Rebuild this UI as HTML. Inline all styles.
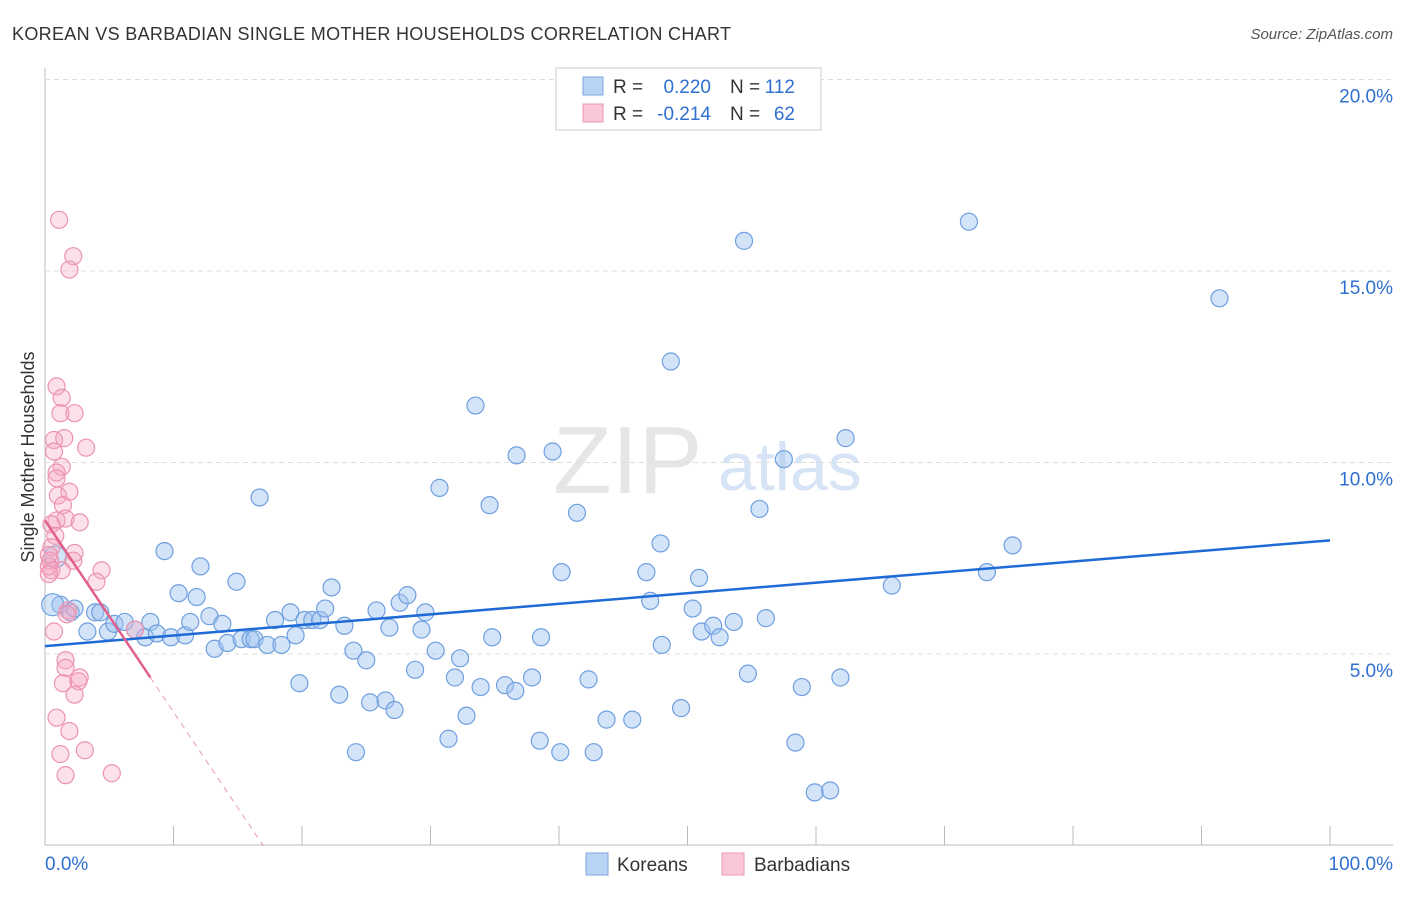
<!DOCTYPE html>
<html><head><meta charset="utf-8"><style>
body{margin:0;background:#fff;font-family:"Liberation Sans",sans-serif}
svg text{font-family:"Liberation Sans",sans-serif}
</style></head><body>
<svg width="1406" height="892" id="c">
<text x="12" y="40" font-size="18" fill="#333" textLength="719">KOREAN VS BARBADIAN SINGLE MOTHER HOUSEHOLDS CORRELATION CHART</text>
<text x="1393" y="39" font-size="15" fill="#555" font-style="italic" text-anchor="end">Source: ZipAtlas.com</text>
<text x="34" y="457" font-size="18" fill="#333" transform="rotate(-90 34 457)" text-anchor="middle">Single Mother Households</text>
<text x="553" y="493" font-size="96" fill="#e6e6e6" font-family="Liberation Serif">ZIP</text>
<text x="718" y="490" font-size="68" fill="#d6e4f5">atlas</text>
<g id="grid"></g><g id="blue"></g><g id="pink"></g><g id="lines"></g>
<rect x="556" y="68" width="265" height="62" fill="#fff" stroke="#ccc"/>
<rect x="583" y="77" width="20" height="18" fill="#b9d3f5" stroke="#7ea6e0"/>
<rect x="583" y="104" width="20" height="18" fill="#f9c7d5" stroke="#e99ab2"/>
<g font-size="19">
<text x="613" y="93" fill="#333">R =</text><text x="711" y="93" fill="#2f6fd0" text-anchor="end">0.220</text>
<text x="730" y="93" fill="#333">N =</text><text x="795" y="93" fill="#2f6fd0" text-anchor="end">112</text></g>
<g font-size="19">
<text x="613" y="120" fill="#333">R =</text><text x="711" y="120" fill="#2f6fd0" text-anchor="end">-0.214</text>
<text x="730" y="120" fill="#333">N =</text><text x="795" y="120" fill="#2f6fd0" text-anchor="end">62</text></g>
<rect x="586" y="853" width="22" height="22" fill="#b9d3f5" stroke="#7ea6e0"/>
<text x="617" y="871" font-size="19" fill="#333">Koreans</text>
<rect x="722" y="853" width="22" height="22" fill="#f9c7d5" stroke="#e99ab2"/>
<text x="754" y="871" font-size="19" fill="#333">Barbadians</text>
<text x="45" y="870" font-size="19" fill="#2f6fd0">0.0%</text>
<text x="1393" y="870" font-size="19" fill="#2f6fd0" text-anchor="end">100.0%</text>
</svg>
<script>
const yTicks=[5,10,15,20];
const yTickLabels=["5.0%","10.0%","15.0%","20.0%"];
const xTicks=[0,10,20,30,40,50,60,70,80,90,100];
const blueX=[1.2,2.0,2.3,3.3,3.9,4.3,4.9,5.4,6.2,7.0,7.8,8.2,8.7,9.3,9.8,10.4,10.9,11.3,11.8,12.1,12.8,13.2,13.8,14.2,14.9,15.3,16.0,16.3,16.7,17.3,17.9,18.4,19.1,19.5,19.8,20.2,20.8,21.4,21.8,22.3,22.9,23.3,24.0,24.2,25.0,25.3,25.8,26.5,26.8,27.2,27.6,28.2,28.8,29.3,29.6,30.4,30.7,31.4,31.9,32.3,32.8,33.5,33.9,34.6,34.8,35.8,36.6,36.7,37.9,38.5,38.6,39.5,40.1,40.2,41.4,42.3,42.7,43.7,45.7,46.8,47.1,47.9,48.0,48.7,49.5,50.4,50.9,51.1,52.0,52.5,53.6,54.4,54.7,55.6,56.1,57.5,58.4,58.9,59.9,61.1,61.9,62.3,65.9,71.9,73.3,75.3,91.4,0.8,0.6];
const blueY=[6.3,6.1,6.2,5.6,6.1,6.1,5.6,5.8,5.85,5.65,5.45,5.85,5.55,7.7,5.45,6.6,5.5,5.85,6.5,7.3,6.0,5.15,5.8,5.3,6.9,5.4,5.4,5.4,9.1,5.25,5.9,5.25,6.1,5.5,4.25,5.9,5.9,5.9,6.2,6.75,3.95,5.75,5.1,2.45,4.85,3.75,6.15,3.8,5.7,3.55,6.35,6.55,4.6,5.65,6.1,5.1,9.35,2.8,4.4,4.9,3.4,11.5,4.15,8.9,5.45,4.2,4.05,10.2,4.4,2.75,5.45,10.3,2.45,7.15,8.7,4.35,2.45,3.3,3.3,7.15,6.4,7.9,5.25,12.65,3.6,6.2,7.0,5.6,5.75,5.45,5.85,15.8,4.5,8.8,5.95,10.1,2.7,4.15,1.4,1.45,4.4,10.65,6.8,16.3,7.15,7.85,14.3,7.55,6.3];
const pinkX=[1.1,2.2,1.9,0.9,1.3,1.2,2.3,1.5,0.7,0.7,3.2,1.3,0.9,0.9,1.9,1.0,1.4,0.9,1.6,2.7,0.5,0.8,0.5,2.3,2.2,0.4,0.5,1.3,4.4,4.0,1.8,1.7,0.7,1.6,1.6,2.7,2.6,1.4,2.3,0.9,1.9,1.2,3.1,1.6,5.2,7.0,0.3,0.3,0.3];
const pinkY=[16.35,15.4,15.05,12.0,11.7,11.3,11.3,10.65,10.6,10.3,10.4,9.9,9.75,9.6,9.25,9.15,8.9,8.5,8.55,8.45,8.4,8.1,7.8,7.65,7.45,7.45,7.2,7.2,7.2,6.9,6.15,6.05,5.6,4.85,4.65,4.4,4.3,4.25,3.95,3.35,3.0,2.4,2.5,1.85,1.9,5.65,7.3,7.1,7.6];
const blueTrend=[5.22,7.98];
const pinkTrend=[8.5,-0.5];
const X=v=>45+v*12.85, Y=v=>846-v*38.3;
const NS="http://www.w3.org/2000/svg";
function mk(p,t,a){const e=document.createElementNS(NS,t);for(const k in a)e.setAttribute(k,a[k]);document.getElementById(p).appendChild(e);return e;}
mk('grid','line',{x1:45,y1:68,x2:45,y2:845,stroke:'#bbb'});
mk('grid','line',{x1:45,y1:845,x2:1393,y2:845,stroke:'#bbb'});
yTicks.forEach((t,i)=>{const y=Y(t)-0.5;
 const l=mk('grid','line',{x1:45,y1:y,x2:1393,y2:y,stroke:'#ddd','stroke-dasharray':'5,4'});
 
 
 const tx=mk('grid','text',{x:1393,y:y+23,'font-size':19,fill:'#2f6fd0','text-anchor':'end'});tx.textContent=yTickLabels[i];
 
 });
xTicks.forEach(t=>{const l=mk('grid','line',{x1:X(t),y1:826,x2:X(t),y2:845,stroke:'#bbb'});
 
 });
blueX.forEach((x,i)=>{const c=mk('blue','circle',{cx:X(x),cy:Y(blueY[i]),r:i>=blueX.length-2?11:8.5,fill:'rgba(160,195,240,0.45)',stroke:'#6f9fe0','stroke-width':1.2});
 
 });
pinkX.forEach((x,i)=>{const c=mk('pink','circle',{cx:X(x),cy:Y(pinkY[i]),r:8.5,fill:'rgba(245,170,195,0.35)',stroke:'#ec93b0','stroke-width':1.2});
 
 });
let l=mk('lines','line',{x1:X(0),y1:Y(blueTrend[0]),x2:X(100),y2:Y(blueTrend[1]),stroke:'#1f6bd6','stroke-width':2.5});


l=mk('lines','line',{x1:X(0),y1:Y(pinkTrend[0]),x2:X(8.2),y2:Y(pinkTrend[0]+pinkTrend[1]*8.2),stroke:'#e0608a','stroke-width':2.5});


const xe=-pinkTrend[0]/pinkTrend[1];
l=mk('lines','line',{x1:X(8.2),y1:Y(pinkTrend[0]+pinkTrend[1]*8.2),x2:X(xe),y2:Y(0),stroke:'#e89ab4','stroke-width':1,'stroke-dasharray':'6,5'});


</script>
</body></html>
